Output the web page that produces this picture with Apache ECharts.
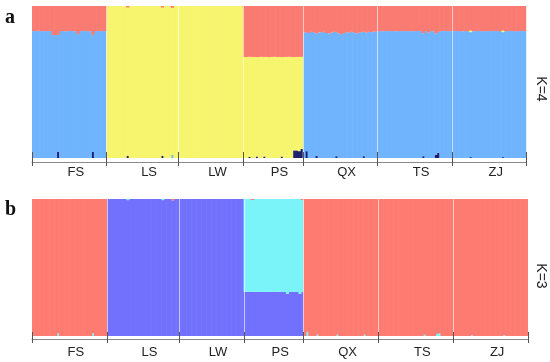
<!DOCTYPE html>
<html><head><meta charset="utf-8">
<script src="https://cdn.jsdelivr.net/npm/echarts@6/dist/echarts.min.js"></script>
<style>html,body{margin:0;padding:0;background:#fff}#c{width:550px;height:362px}</style>
</head><body><div id="c"></div>
<script>
// Populations and number of individuals per population
const groups = ['FS', 'LS', 'LW', 'PS', 'QX', 'TS', 'ZJ'];
const groupSizes = [30, 29, 26, 24, 30, 30, 30];
const panelLetters = ['a', 'b'];
const panelK = ['K=4', 'K=3'];

// ---------- K = 4 membership coefficients (per individual) ----------
const k4Navy = [
/*FS*/ 0,0,0,0,0,0,0,0,0,0, .04,0,0,0,0,0,0,0,0,0, 0,0,0,0,.04,0,0,0,0,0,
/*LS*/ 0,0,0,0,0,0,0,0,.015,0, 0,0,0,0,0,0,0,0,0,0, 0,0,.015,0,0,0,0,0,0,
/*LW*/ 0,0,0,0,0,0,0,0,0,0, 0,0,0,0,0,0,0,0,0,0, 0,0,0,0,0,0,
/*PS*/ 0,0,.008,0,0,.01,0,0,.01,0, 0,0,0,0,0,.01,0,0,0,0, .05,.05,.045,.06,
/*QX*/ 0,.045,0,0,0,.015,0,0,0,0, 0,0,0,.012,0,0,0,0,0,0, 0,0,0,0,.012,0,0,0,0,0,
/*TS*/ 0,0,0,0,0,0,0,0,0,0, 0,0,0,0,0,0,0,0,.012,0, 0,0,0,.02,.035,0,0,0,0,0,
/*ZJ*/ 0,0,0,0,0,0,0,.006,0,0, 0,0,0,0,0,0,0,0,0,0, .006,0,0,0,0,0,0,0,0,0
];
const k4Blue = [
/*FS*/ .835,.835,.837,.835,.834,.835,.836,.835,.81,.808, .77,.835,.835,.834,.835,.836,.835,.834,.815,.835, .835,.836,.835,.834,.77,.835,.835,.836,.835,.835,
/*LS*/ 0,0,0,0,0,0,0,0,0,0, 0,0,0,0,0,0,0,0,0,0, 0,0,0,0,0,0,.02,0,0,
/*LW*/ 0,0,0,0,0,0,0,0,0,0, 0,0,0,0,0,0,0,0,0,0, 0,0,0,0,0,0,
/*PS*/ 0,0,0,0,0,0,0,0,0,0, 0,0,0,0,0,0,0,0,0,0, 0,0,0,0,
/*QX*/ .825,.783,.822,.83,.828,.805,.825,.828,.83,.822, .82,.825,.83,.816,.82,.815,.822,.828,.825,.83, .828,.82,.824,.828,.818,.825,.83,.828,.832,.83,
/*TS*/ .835,.835,.834,.835,.836,.835,.835,.834,.835,.835, .836,.835,.835,.834,.835,.835,.836,.835,.808,.835, .825,.835,.834,.8,.795,.835,.835,.836,.835,.835,
/*ZJ*/ .835,.835,.836,.835,.834,.835,.835,.822,.835,.835, .836,.835,.834,.835,.835,.835,.836,.835,.835,.835, .822,.835,.835,.836,.835,.834,.835,.835,.836,.835
];
const k4Yellow = [
/*FS*/ 0,0,0,0,0,0,0,0,0,0, 0,0,0,0,0,0,0,0,0,0, 0,0,0,0,0,0,0,0,0,0,
/*LS*/ 1,1,1,1,1,1,1,1,.975,1, 1,1,1,1,1,1,1,1,1,1, 1,1,.975,1,1,1,.968,1,1,
/*LW*/ 1,1,1,1,1,1,1,1,1,1, 1,1,1,1,1,1,1,1,1,1, 1,1,1,1,1,1,
/*PS*/ .665,.664,.658,.665,.665,.654,.665,.666,.655,.665, .664,.665,.666,.665,.665,.654,.665,.665,.666,.665, .614,.615,.62,.606,
/*QX*/ 0,0,0,0,0,0,0,0,0,0, 0,0,0,0,0,0,0,0,0,0, 0,0,0,0,0,0,0,0,0,0,
/*TS*/ 0,0,0,0,0,0,0,0,0,0, 0,0,0,0,0,0,0,0,0,0, 0,0,0,0,0,0,0,0,0,0,
/*ZJ*/ 0,0,0,0,0,0,0,.012,0,0, 0,0,0,0,0,0,0,0,0,0, .012,0,0,0,0,0,0,0,0,0
];
const k4Red = [
/*FS*/ .165,.165,.163,.165,.166,.165,.164,.165,.19,.192, .19,.165,.165,.166,.165,.164,.165,.166,.185,.165, .165,.164,.165,.166,.19,.165,.165,.164,.165,.165,
/*LS*/ 0,0,0,0,0,0,0,0,.01,0, 0,0,0,0,0,0,0,0,0,0, 0,0,.01,0,0,0,.012,0,0,
/*LW*/ 0,0,0,0,0,0,0,0,0,0, 0,0,0,0,0,0,0,0,0,0, 0,0,0,0,0,0,
/*PS*/ .335,.336,.334,.335,.335,.336,.335,.334,.335,.335, .336,.335,.334,.335,.335,.336,.335,.335,.334,.335, .336,.335,.335,.334,
/*QX*/ .175,.172,.178,.17,.172,.18,.175,.172,.17,.178, .18,.175,.17,.172,.18,.185,.178,.172,.175,.17, .172,.18,.176,.172,.17,.175,.17,.172,.168,.17,
/*TS*/ .165,.165,.166,.165,.164,.165,.165,.166,.165,.165, .164,.165,.165,.166,.165,.165,.164,.165,.18,.165, .175,.165,.166,.18,.17,.165,.165,.164,.165,.165,
/*ZJ*/ .165,.165,.164,.165,.166,.165,.165,.16,.165,.165, .164,.165,.166,.165,.165,.165,.164,.165,.165,.165, .16,.165,.165,.164,.165,.166,.165,.165,.164,.165
];

// ---------- K = 3 membership coefficients (per individual) ----------
const k3Blue = [
/*FS*/ 0,0,0,0,0,0,0,0,0,0, 0,0,0,0,0,0,0,0,0,0, 0,0,0,0,0,0,0,0,0,0,
/*LS*/ 1,1,1,1,1,1,1,1,.992,1, 1,1,1,1,1,1,1,1,1,1, 1,1,.992,1,1,1,.99,1,1,
/*LW*/ 1,1,1,1,1,1,1,1,1,1, 1,1,1,1,1,1,1,1,1,1, 1,1,1,1,1,1,
/*PS*/ .323,.322,.324,.323,.323,.322,.324,.323,.323,.322, .323,.324,.323,.322,.323,.324,.323,.307,.323,.322, .324,.323,.307,.322,
/*QX*/ 0,0,0,0,0,0,0,0,0,0, 0,0,0,0,0,0,0,0,0,0, 0,0,0,0,0,0,0,0,0,0,
/*TS*/ 0,0,0,0,0,0,0,0,0,0, 0,0,0,0,0,0,0,0,0,0, 0,0,0,0,0,0,0,0,0,0,
/*ZJ*/ 0,0,0,0,0,0,0,0,0,0, 0,0,0,0,0,0,0,0,0,0, 0,0,0,0,0,0,0,0,0,0
];
const k3Cyan = [
/*FS*/ 0,0,0,0,0,0,0,0,0,0, .02,0,0,0,0,0,0,0,0,0, 0,0,0,0,.02,0,0,0,0,0,
/*LS*/ 0,0,0,0,0,0,0,0,.008,0, 0,0,0,0,0,0,0,0,0,0, 0,0,.008,0,0,0,0,0,0,
/*LW*/ 0,0,0,0,0,0,0,0,0,0, 0,0,0,0,0,0,0,0,0,0, 0,0,0,0,0,0,
/*PS*/ .677,.678,.676,.669,.677,.678,.676,.677,.677,.678, .677,.676,.677,.678,.677,.676,.677,.693,.677,.678, .676,.677,.693,.67,
/*QX*/ 0,.03,0,0,0,.01,0,0,0,0, 0,0,0,.01,0,0,0,0,0,0, 0,0,0,0,.01,0,0,0,0,0,
/*TS*/ 0,0,0,0,0,0,0,0,0,0, 0,0,0,0,0,0,0,0,.01,0, 0,0,0,.015,.02,0,0,0,0,0,
/*ZJ*/ 0,0,0,0,0,0,0,.005,0,0, 0,0,0,0,0,0,0,0,0,0, .005,0,0,0,0,0,0,0,0,0
];
const k3Red = [
/*FS*/ 1,1,1,1,1,1,1,1,1,1, .98,1,1,1,1,1,1,1,1,1, 1,1,1,1,.98,1,1,1,1,1,
/*LS*/ 0,0,0,0,0,0,0,0,0,0, 0,0,0,0,0,0,0,0,0,0, 0,0,0,0,0,0,.01,0,0,
/*LW*/ 0,0,0,0,0,0,0,0,0,0, 0,0,0,0,0,0,0,0,0,0, 0,0,0,0,0,0,
/*PS*/ 0,0,0,.008,0,0,0,0,0,0, 0,0,0,0,0,0,0,0,0,0, 0,0,0,.008,
/*QX*/ 1,.97,1,1,1,.99,1,1,1,1, 1,1,1,.99,1,1,1,1,1,1, 1,1,1,1,.99,1,1,1,1,1,
/*TS*/ 1,1,1,1,1,1,1,1,1,1, 1,1,1,1,1,1,1,1,.99,1, 1,1,1,.985,.98,1,1,1,1,1,
/*ZJ*/ 1,1,1,1,1,1,1,.995,1,1, 1,1,1,1,1,1,1,1,1,1, .995,1,1,1,1,1,1,1,1,1
];

// ---------- derived layout helpers ----------
const total = groupSizes.reduce((a, b) => a + b, 0);
const boundaries = [0];
groupSizes.forEach(n => boundaries.push(boundaries[boundaries.length - 1] + n));
const centers = groups.map((g, i) => boundaries[i] + groupSizes[i] / 2);
const innerBoundaries = new Set(boundaries.slice(1, -1));
const individuals = Array.from({ length: total }, (_, i) => 'ind' + (i + 1));

const LABEL_FONT = '"Liberation Sans", Arial, sans-serif';

const panels = [
  { grid: { left: 32, right: 23.5, top: 6, height: 152 }, offset: 4, tickIn: 10, tickOut: 4, labelMargin: 4,
    series: [
      { name: 'cl4', data: k4Navy, color: '#1e1f6c' },
      { name: 'cl2', data: k4Blue, color: '#6fb4fd' },
      { name: 'cl3', data: k4Yellow, color: '#f6f56d' },
      { name: 'cl1', data: k4Red, color: '#f97b72' }
    ] },
  { grid: { left: 32, right: 22, top: 199, height: 137 }, offset: 3, tickIn: 7, tickOut: 4, labelMargin: 7,
    series: [
      { name: 'c2', data: k3Blue, color: '#7171fd' },
      { name: 'c3', data: k3Cyan, color: '#7af4f8' },
      { name: 'c1', data: k3Red, color: '#fd7b71' }
    ] }
];

const grid = [], xAxis = [], yAxis = [], series = [];
panels.forEach((p, gi) => {
  grid.push(p.grid);
  yAxis.push({ gridIndex: gi, type: 'value', min: 0, max: 1, show: false });
  const catIndex = xAxis.length;
  // category axis holding the individuals (bars); draws the faint population separators
  xAxis.push({
    gridIndex: gi, type: 'category', data: individuals, boundaryGap: true, position: 'bottom', z: 5,
    axisLine: { show: false }, axisTick: { show: false }, axisLabel: { show: false },
    splitLine: { show: true, interval: (idx) => innerBoundaries.has(idx),
      lineStyle: { color: 'rgba(255,255,255,0.6)', width: 1 } }
  });
  // visible axis: line, outward ticks and population labels
  xAxis.push({
    gridIndex: gi, type: 'value', min: 0, max: total, position: 'bottom', offset: p.offset,
    axisLine: { show: true, onZero: false, lineStyle: { color: '#8a8a8a', width: 1 } },
    axisTick: { show: true, customValues: boundaries, length: p.tickOut, lineStyle: { color: '#555', width: 1 } },
    axisLabel: { show: true, customValues: centers, margin: p.labelMargin, padding: [0, 0, 0, 13],
      formatter: (v) => { const i = centers.indexOf(v); return i >= 0 ? groups[i] : ''; },
      fontSize: 13, color: '#222', fontFamily: LABEL_FONT },
    splitLine: { show: false }
  });
  // inward ticks crossing the axis line
  xAxis.push({
    gridIndex: gi, type: 'value', min: 0, max: total, position: 'bottom', offset: p.offset, z: 6,
    axisLine: { show: false, onZero: false },
    axisTick: { show: true, inside: true, customValues: boundaries, length: p.tickIn, lineStyle: { color: '#555', width: 1 } },
    axisLabel: { show: false }, splitLine: { show: false }
  });
  p.series.forEach(s => {
    series.push({
      type: 'bar', name: s.name, stack: 'panel' + gi, xAxisIndex: catIndex, yAxisIndex: gi,
      data: s.data, barWidth: 3.1, barGap: '-100%', silent: true,
      itemStyle: { color: s.color, borderWidth: 0 }
    });
  });
});

const chart = echarts.init(document.getElementById('c'), null, { renderer: 'canvas' });
chart.setOption({
  animation: false,
  backgroundColor: '#ffffff',
  grid, xAxis, yAxis, series,
  graphic: [
    { type: 'text', left: 5, top: 8, style: { text: panelLetters[0], font: 'bold 20px "Liberation Serif", "Times New Roman", serif', fill: '#111' } },
    { type: 'text', left: 5, top: 200, style: { text: panelLetters[1], font: 'bold 20px "Liberation Serif", "Times New Roman", serif', fill: '#111' } },
    { type: 'text', x: 541, y: 89, rotation: -Math.PI / 2, style: { text: panelK[0], font: '14px ' + LABEL_FONT, fill: '#222', align: 'center', verticalAlign: 'middle' } },
    { type: 'text', x: 541, y: 276, rotation: -Math.PI / 2, style: { text: panelK[1], font: '14px ' + LABEL_FONT, fill: '#222', align: 'center', verticalAlign: 'middle' } }
  ]
});
</script>
</body></html>
